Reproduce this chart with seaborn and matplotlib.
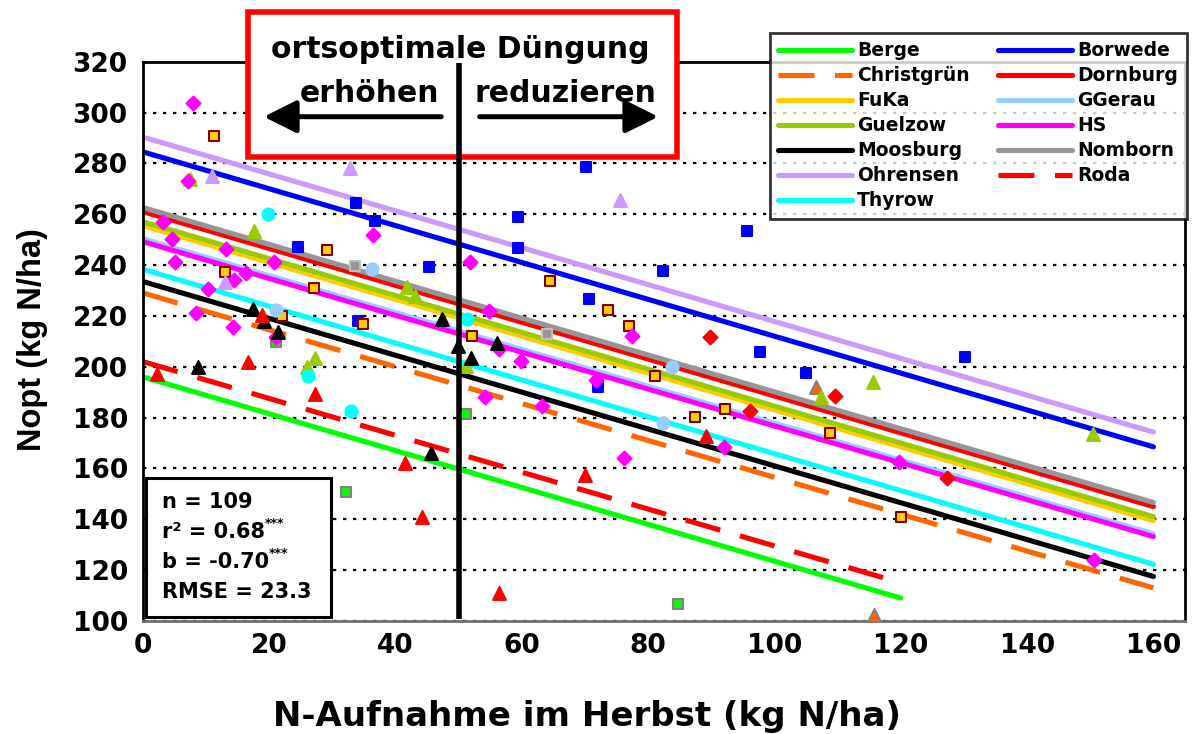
import numpy as np
import pandas as pd
import seaborn as sns
import matplotlib.pyplot as plt
from matplotlib.patches import Rectangle, FancyArrowPatch
from matplotlib.lines import Line2D

# --- data --------------------------------------------------------------
sites = ["Berge", "Borwede", "Christgrün", "Dornburg", "FuKa", "GGerau", "Guelzow",
         "HS", "Moosburg", "Nomborn", "Ohrensen", "Roda", "Thyrow"]

# fitted lines: common slope, site intercept, x end
slope = -0.725
intercepts = [196, 284.5, 229, 261, 255.5, 250.3, 257, 249.2, 233.5, 262.6, 290.3, 202, 238.3]
x_end = [120, 160, 160, 160, 160, 160, 160, 160, 160, 160, 160, 120, 160]

berge_x = [21.1, 32.2, 51.1, 84.7]
berge_y = [209.8, 150.6, 181.3, 106.7]
borwede_x = [24.5, 33.8, 34.0, 36.8, 45.3, 59.4, 59.4, 70.1, 70.7, 72.1, 82.3, 95.7, 97.7, 105.0, 130.2]
borwede_y = [247.2, 264.3, 218.0, 257.4, 239.2, 258.8, 246.6, 278.5, 226.8, 192.2, 237.8, 253.5, 205.8, 197.7, 203.7]
christ_x = [106.5, 115.7]
christ_y = [192.2, 102.2]
dornburg_x = [89.8, 96.1, 109.6, 127.3]
dornburg_y = [211.6, 182.6, 188.6, 156.4]
fuka_x = [11.2, 29.1, 13.0, 27.1, 22.0, 34.8, 52.1, 64.5, 73.7, 77.0, 81.1, 87.4, 92.1, 108.8, 120.0]
fuka_y = [290.8, 245.8, 237.3, 230.8, 220.0, 216.7, 212.1, 233.8, 222.2, 216.0, 196.4, 180.2, 183.5, 174.1, 140.9]
ggerau_x = [36.3, 21.1, 83.8, 82.3]
ggerau_y = [238.5, 222.3, 199.7, 178.0]
guelzow_x = [7.4, 17.5, 41.8, 43.0, 27.3, 25.9, 51.1, 107.3, 115.6, 150.4]
guelzow_y = [274.0, 253.4, 231.3, 228.0, 203.6, 199.7, 200.3, 188.2, 193.9, 173.4]
hs_x = [7.9, 7.1, 3.2, 4.6, 5.1, 13.1, 20.7, 36.4, 14.4, 16.3, 10.3, 8.4, 14.2, 21.1, 51.7,
        54.8, 56.4, 59.9, 54.2, 63.1, 71.7, 77.4, 76.1, 92.0, 119.7, 150.6]
hs_y = [303.9, 273.2, 257.1, 250.3, 241.0, 246.2, 241.0, 251.8, 234.1, 236.8, 230.7, 221.0, 215.8, 211.5, 241.3,
        221.8, 207.0, 202.3, 188.0, 184.7, 194.8, 212.1, 164.0, 168.3, 162.7, 124.0]
moos_x = [17.4, 19.1, 21.3, 47.4, 8.7, 45.6, 49.9, 52.0, 56.1]
moos_y = [222.8, 218.0, 213.5, 218.9, 200.0, 166.0, 208.2, 203.3, 209.5]
nomborn_x = [33.5, 63.9]
nomborn_y = [239.8, 212.8]
ohrensen_x = [10.9, 32.7, 12.9, 75.6]
ohrensen_y = [275.0, 278.0, 233.2, 265.6]
roda_x = [2.2, 16.6, 18.9, 27.3, 41.5, 44.1, 56.3, 70.0, 89.2]
roda_y = [197.2, 202.0, 220.2, 189.2, 162.0, 141.0, 111.0, 157.3, 172.8]
thyrow_x = [19.8, 26.1, 32.9, 51.3]
thyrow_y = [260.1, 196.4, 182.7, 218.8]

point_x = [berge_x, borwede_x, christ_x, dornburg_x, fuka_x, ggerau_x, guelzow_x,
           hs_x, moos_x, nomborn_x, ohrensen_x, roda_x, thyrow_x]
point_y = [berge_y, borwede_y, christ_y, dornburg_y, fuka_y, ggerau_y, guelzow_y,
           hs_y, moos_y, nomborn_y, ohrensen_y, roda_y, thyrow_y]

threshold = 50
stats = ["n = 109", "r² = 0.68", "b = -0.70", "RMSE = 23.3"]
stars = ["", "***", "***", ""]

# --- styles ------------------------------------------------------------
line_colors = ["#00FF00", "#0000FF", "#FF6600", "#FF0000", "#FFCC00", "#99CCFF", "#99CC00",
               "#FF00FF", "#000000", "#969696", "#CC99FF", "#FF0000", "#00FFFF"]
dashed = ["Christgrün", "Roda"]
markers = ["s", "s", "^", "D", "s", "o", "^", "D", "^", "s", "^", "^", "o"]
edges = ["#808080", "#0000FF", "#808080", "#FF0000", "#800000", "#99CCFF", "#99CC00",
         "#FF00FF", "#000000", "#C0C0C0", "#CC99FF", "#FF0000", "#00FFFF"]
sizes = {"s": 60, "^": 85, "D": 50, "o": 75}

sns.set_style("white")
plt.rcParams['font.family'] = ['DejaVu Sans']
plt.rcParams['font.weight'] = 'bold'
plt.rcParams['text.color'] = 'black'
plt.rcParams['axes.labelcolor'] = 'black'

fig = plt.figure(figsize=(11.99, 7.34), dpi=100)
ax = fig.add_axes([0.1193, 0.154, 0.869, 0.762])

lines_df = pd.concat([pd.DataFrame({"site": s, "x": [0, xe], "y": [b, b + slope * xe]})
                      for s, b, xe in zip(sites, intercepts, x_end)])
pts_df = pd.concat([pd.DataFrame({"site": s, "x": px, "y": py})
                    for s, px, py in zip(sites, point_x, point_y)])

handles = {}
for i, s in enumerate(sites):
    sub = lines_df[lines_df.site == s]
    ls = (0, (7, 4)) if s in dashed else "-"
    sns.lineplot(data=sub, x="x", y="y", color=line_colors[i], lw=3.7, ax=ax,
                 estimator=None, sort=False, linestyle=ls, legend=False, zorder=2)
    ax.lines[-1].set_solid_capstyle("round")
    handles[s] = Line2D([], [], color=line_colors[i], lw=3.7, linestyle=ls,
                        solid_capstyle="round")

for i, s in enumerate(sites):
    sub = pts_df[pts_df.site == s]
    sns.scatterplot(data=sub, x="x", y="y", marker=markers[i], color=line_colors[i],
                    edgecolor=edges[i], linewidth=1.5, s=sizes[markers[i]], ax=ax,
                    legend=False, zorder=3)

ax.set_xlim(0, 165)
ax.set_ylim(100, 320)
ax.set_xticks(np.arange(0, 161, 20))
ax.set_yticks(np.arange(100, 321, 20))
ax.tick_params(axis="both", labelsize=19, length=7, width=1.5, direction="out",
               colors="black", labelcolor="black", pad=4)
ax.tick_params(axis="x", pad=1.5)
for lab in ax.get_xticklabels() + ax.get_yticklabels():
    lab.set_fontweight("bold")
for sp in ax.spines.values():
    sp.set_color("black")
    sp.set_linewidth(2)
ax.spines["bottom"].set_color("#707070")
ax.yaxis.grid(True, color="black", linestyle=(0, (1.5, 3)), lw=1.6)
ax.set_axisbelow(True)
ax.set_xlabel("N-Aufnahme im Herbst (kg N/ha)", fontsize=24.5, fontweight="bold",
              color="black")
ax.xaxis.set_label_coords(0.426, -0.142)
ax.set_ylabel("Nopt (kg N/ha)", fontsize=23.5, fontweight="bold", color="black",
              family=["Liberation Sans", "DejaVu Sans"])
ax.yaxis.set_label_coords(-0.106, 0.504)
ax.yaxis.label.set_va("center")

# statistics box
ax.add_patch(Rectangle((0.003, 0.007), 0.177, 0.249, transform=ax.transAxes,
                       facecolor="white", edgecolor="black", lw=2.2, zorder=5))
for k, (txt, st) in enumerate(zip(stats, stars)):
    t = ax.text(0.018, 0.213 - k * 0.054, txt, transform=ax.transAxes, fontsize=15,
                fontweight="bold", va="center", ha="left", zorder=6)
    if st:
        ax.annotate(st, xy=(1, 0.95), xycoords=t, fontsize=9, fontweight="bold",
                    va="center", ha="left", zorder=6)

# threshold box with arrows
ax.add_patch(Rectangle((0.207, 0.786), 0.358, 0.197, transform=fig.transFigure,
                       facecolor="white", edgecolor="#FF0000", lw=4, zorder=7, clip_on=False))
ax.plot([threshold, threshold], [100.8, 319.5], color="black", lw=4, zorder=8,
        clip_on=False, solid_capstyle="butt")
fig.text(0.384, 0.932, "ortsoptimale Düngung", fontsize=21.5, fontweight="bold",
         ha="center", va="center", zorder=9)
fig.text(0.308, 0.872, "erhöhen", fontsize=21.5, fontweight="bold", ha="center",
         va="center", zorder=9)
fig.text(0.472, 0.872, "reduzieren", fontsize=21.5, fontweight="bold", ha="center",
         va="center", zorder=9)
for x0, x1 in [(0.368, 0.220), (0.400, 0.549)]:
    fig.add_artist(FancyArrowPatch((x0, 0.841), (x1, 0.841), transform=fig.transFigure,
                                   arrowstyle="-|>,head_length=1.0,head_width=0.5",
                                   mutation_scale=20, lw=3.6, color="black", zorder=9,
                                   shrinkA=0, shrinkB=0))

order = ["Berge", "Christgrün", "FuKa", "Guelzow", "Moosburg", "Ohrensen", "Thyrow",
         "Borwede", "Dornburg", "GGerau", "HS", "Nomborn", "Roda"]
leg = ax.legend([handles[s] for s in order], order, ncol=2, loc="upper left",
                bbox_to_anchor=(0.642, 0.955), bbox_transform=fig.transFigure,
                fontsize=13.5, frameon=True, fancybox=False, handlelength=3.95,
                handletextpad=0.27, columnspacing=1.5, labelspacing=0.32,
                borderpad=0.45, borderaxespad=0)
leg.get_frame().set_edgecolor("black")
leg.get_frame().set_linewidth(2)
leg.set_zorder(10)
for t in leg.get_texts():
    t.set_fontweight("bold")
    t.set_color("black")

fig.savefig("out.png", dpi=100)
